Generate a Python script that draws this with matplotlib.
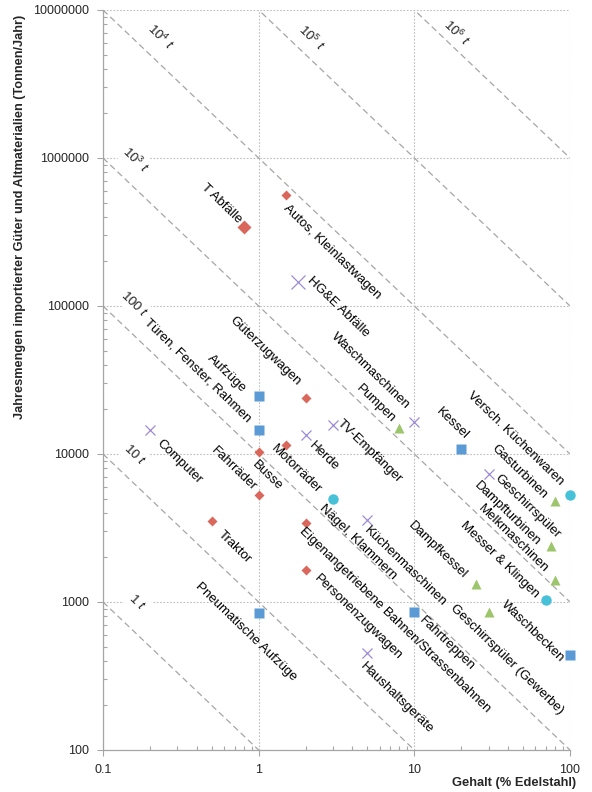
import matplotlib
matplotlib.use("Agg")
import matplotlib.pyplot as plt
from matplotlib.ticker import FixedLocator, FuncFormatter, LogLocator, NullFormatter

plt.rcParams["font.family"] = ["Liberation Sans", "DejaVu Sans"]
plt.rcParams["mathtext.fontset"] = "custom"
plt.rcParams["mathtext.rm"] = "Liberation Sans"
plt.rcParams["mathtext.it"] = "Liberation Sans:italic"

# --- data: stainless steel content (%) and annual import volume (t/year) ---
fahrzeuge_names = ["Autos, Kleinlastwagen", "Güterzugwagen", "Motorräder", "Busse",
                   "Fahrräder", "Traktor", "Eigenangetriebene Bahnen/Strassenbahnen",
                   "Personenzugwagen"]
fahrzeuge_pct = [1.5, 2, 1.5, 1, 1, 0.5, 2, 2]
fahrzeuge_t = [560000, 24000, 11500, 10300, 5300, 3500, 3400, 1650]

fahrzeug_abfall_names = ["T Abfälle"]
fahrzeug_abfall_pct = [0.8]
fahrzeug_abfall_t = [340000]

bau_names = ["Aufzüge", "Türen, Fenster, Rahmen", "Pneumatische Aufzüge", "Kessel",
             "Fahrtreppen", "Waschbecken"]
bau_pct = [1, 1, 1, 20, 10, 100]
bau_t = [24500, 14500, 840, 10800, 850, 440]

geraete_names = ["Computer", "Herde", "TV-Empfänger", "Waschmaschinen",
                 "Küchenmaschinen", "Haushaltsgeräte", "Geschirrspüler"]
geraete_pct = [0.2, 2, 3, 10, 5, 5, 30]
geraete_t = [14500, 13500, 15700, 16500, 3600, 450, 7300]

geraete_abfall_names = ["HG&E Abfälle"]
geraete_abfall_pct = [1.8]
geraete_abfall_t = [145000]

maschinen_names = ["Pumpen", "Gasturbinen", "Dampfturbinen", "Melkmaschinen",
                   "Dampfkessel", "Geschirrspüler (Gewerbe)"]
maschinen_pct = [8, 80, 75, 80, 25, 30]
maschinen_t = [15000, 4800, 2400, 1400, 1330, 860]

metallwaren_names = ["Nägel, Klammern", "Versch. Küchenwaren", "Messer & Klingen"]
metallwaren_pct = [3, 100, 70]
metallwaren_t = [5000, 5300, 1030]

# iso-lines of stainless steel mass (t)
iso_exponents = [0, 1, 2, 3, 4, 5, 6]

x_ticks = [0.1, 1, 10, 100]
y_ticks = [100, 1000, 10000, 100000, 1000000, 10000000]

# --- label placement (offset of label centre from its marker, pixels) ---
label_offsets = {
    "T Abfälle": (-22, 24),
    "Autos, Kleinlastwagen": (46, -57),
    "Güterzugwagen": (-40, 47),
    "Motorräder": (10, -24),
    "Busse": (9, -24),
    "Fahrräder": (-25, 26),
    "Traktor": (23, -26),
    "Eigenangetriebene Bahnen/Strassenbahnen": (89, -97),
    "Personenzugwagen": (53, -48),
    "Aufzüge": (-32, 23),
    "Türen, Fenster, Rahmen": (-61, 60),
    "Pneumatische Aufzüge": (-13, -19),
    "Kessel": (-9, 25),
    "Fahrtreppen": (33, -31),
    "Waschbecken": (-37, 23),
    "HG&E Abfälle": (40, -25),
    "Computer": (29, -32),
    "Herde": (18, -22),
    "TV-Empfänger": (37, -26),
    "Waschmaschinen": (-44, 51),
    "Küchenmaschinen": (38, -47),
    "Haushaltsgeräte": (29, -45),
    "Geschirrspüler": (39, -32),
    "Pumpen": (-23, 24),
    "Gasturbinen": (-36, 29),
    "Dampfturbinen": (-43, 32),
    "Melkmaschinen": (-42, 42),
    "Dampfkessel": (-39, 33),
    "Geschirrspüler (Gewerbe)": (18, -48),
    "Nägel, Klammern": (25, -44),
    "Versch. Küchenwaren": (-55, 56),
    "Messer & Klingen": (-46, 40),
}

RED = "#DA675B"
BLUE = "#5B9BD5"
PURPLE = "#9E8BD6"
GREEN = "#9DC56B"
CYAN = "#47C1D7"

fig = plt.figure(figsize=(5.92, 7.92), dpi=100)
ax = fig.add_axes([103 / 592, 42 / 792, 467 / 592, 740 / 792])
ax.set_xscale("log")
ax.set_yscale("log")
ax.set_xlim(0.1, 100)
ax.set_ylim(100, 1e7)

# iso-mass diagonals: tonnes = y * pct / 100
xs = [0.1, 100]
for k in iso_exponents:
    ax.plot(xs, [10 ** k * 100 / x for x in xs], color="#A6A6A6", lw=0.9,
            dashes=(5, 3), zorder=1)

iso_label_px = {6: (456.7, 33), 5: (311.7, 38), 4: (160.7, 37), 3: (135, 160),
                2: (134, 304), 1: (135, 455), 0: (137.5, 602)}
for k, (px, py) in iso_label_px.items():
    if k >= 3:
        txt = r"$\mathrm{10^{%d}}\ t$" % k
    else:
        txt = r"$\mathrm{%d}\ t$" % (10 ** k)
    ax.text(px, 792 - py, txt, transform=None, rotation=-44,
            rotation_mode="anchor", ha="center", va="center", fontsize=9.5,
            color="#222222", zorder=3,
            bbox=dict(facecolor="white", edgecolor="none", pad=2.5))

series = [
    (fahrzeuge_names, fahrzeuge_pct, fahrzeuge_t, dict(marker="D", ms=4.8, color=RED, mec="none")),
    (fahrzeug_abfall_names, fahrzeug_abfall_pct, fahrzeug_abfall_t, dict(marker="D", ms=6.8, color=RED, mec="none")),
    (bau_names, bau_pct, bau_t, dict(marker="s", ms=7.5, color=BLUE, mec="none")),
    (geraete_names, geraete_pct, geraete_t, dict(marker="x", ms=7, color=PURPLE, mew=0.9)),
    (geraete_abfall_names, geraete_abfall_pct, geraete_abfall_t, dict(marker="x", ms=10, color=PURPLE, mew=0.9)),
    (maschinen_names, maschinen_pct, maschinen_t, dict(marker="^", ms=7.5, color=GREEN, mec="none")),
    (metallwaren_names, metallwaren_pct, metallwaren_t, dict(marker="o", ms=7.5, color=CYAN, mec="none")),
]

for names, pct, tonnes, style in series:
    ax.plot(pct, tonnes, ls="none", clip_on=False, zorder=4, **style)
    for name, x, y in zip(names, pct, tonnes):
        dx, dy = label_offsets[name]
        ax.annotate(name, (x, y), xytext=(dx, dy), textcoords="offset pixels",
                    rotation=-44, rotation_mode="anchor", ha="center",
                    va="center", fontsize=9.5, color="black", zorder=5)

# axes styling
for side in ("top", "right"):
    ax.spines[side].set_visible(False)
for side in ("left", "bottom"):
    ax.spines[side].set_color("#A6A6A6")
    ax.spines[side].set_linewidth(0.9)

ax.grid(True, which="major", color="#BFBFBF", lw=0.8, ls=(0, (1.5, 1.5)))
ax.set_axisbelow(True)

ax.xaxis.set_major_locator(FixedLocator(x_ticks))
ax.xaxis.set_major_formatter(FuncFormatter(lambda v, p: f"{v:g}"))
ax.yaxis.set_major_locator(FixedLocator(y_ticks))
ax.yaxis.set_major_formatter(FuncFormatter(lambda v, p: f"{int(round(v))}"))
for axis in (ax.xaxis, ax.yaxis):
    axis.set_minor_locator(LogLocator(base=10, subs=range(2, 10)))
    axis.set_minor_formatter(NullFormatter())

ax.tick_params(which="major", direction="out", length=4, width=0.8,
               color="#A6A6A6", labelsize=9, labelcolor="#262626", pad=6)
ax.tick_params(which="minor", direction="in", length=3, width=0.8,
               color="#A6A6A6")

ax.set_ylabel("Jahresmengen importierter Güter und Altmaterialien (Tonnen/Jahr)",
              fontsize=9.2, fontweight="bold", color="#262626")
ax.yaxis.set_label_coords(-0.165, 0.72)
ax.set_xlabel("Gehalt (% Edelstahl)", fontsize=9.3, fontweight="bold",
              color="#262626", ha="right", va="center")
ax.xaxis.set_label_coords(1.014, -0.0446)

fig.savefig("out.png", dpi=100, facecolor="white")
